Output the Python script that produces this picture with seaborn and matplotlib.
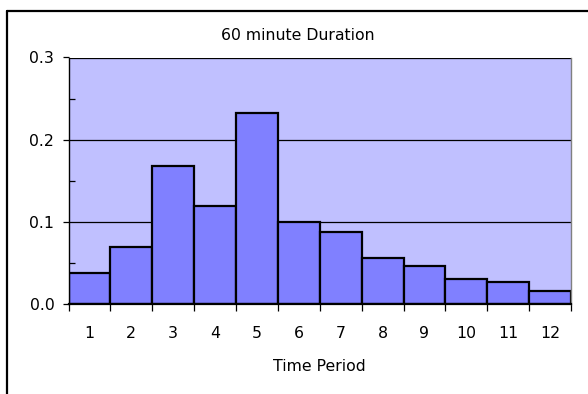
import matplotlib
matplotlib.use("Agg")
import matplotlib.pyplot as plt
import seaborn as sns
import pandas as pd
from matplotlib.lines import Line2D
from matplotlib.ticker import MultipleLocator, FormatStrFormatter

periods = ["1", "2", "3", "4", "5", "6", "7", "8", "9", "10", "11", "12"]
values = [0.038, 0.070, 0.168, 0.120, 0.232, 0.100, 0.088, 0.056, 0.047, 0.031, 0.027, 0.016]
title = "60 minute Duration"
xlabel = "Time Period"

df = pd.DataFrame({"period": periods, "value": values})

sns.set_style("white")
plt.rcParams["font.family"] = ["DejaVu Sans"]
plt.rcParams["text.color"] = "black"
plt.rcParams["axes.labelcolor"] = "black"
plt.rcParams["xtick.color"] = "black"
plt.rcParams["ytick.color"] = "black"

FS = 11.3

fig = plt.figure(figsize=(5.88, 3.94), dpi=100)
ax = fig.add_axes([68.5 / 588, 1 - 304.3 / 394, (571 - 68.5) / 588, (304.3 - 57.5) / 394])
ax.set_facecolor("#C0C0FF")

sns.barplot(data=df, x="period", y="value", ax=ax, width=1.0, color="#8080FF",
            saturation=1, edgecolor="black", linewidth=1.6, zorder=3)

ax.set_xlim(-0.5, len(periods) - 0.5)
ax.set_ylim(0, 0.3)

# gridlines
for v in [0.1, 0.2, 0.3]:
    ax.axhline(v, color="black", linewidth=0.9, zorder=1)

ax.yaxis.set_major_locator(MultipleLocator(0.1))
ax.yaxis.set_minor_locator(MultipleLocator(0.05))
ax.yaxis.set_major_formatter(FormatStrFormatter("%.1f"))
ax.tick_params(axis="y", which="major", direction="out", length=4.2, width=0.9,
               labelsize=FS, pad=6, left=True)
ax.tick_params(axis="y", which="minor", direction="in", length=4, width=0.9, left=True)

# x ticks at boundaries, labels at centers
ax.set_xticks([i - 0.5 for i in range(len(periods) + 1)])
ax.set_xticklabels([])
ax.set_xticks(list(range(len(periods))), minor=True)
ax.set_xticklabels(periods, minor=True)
ax.tick_params(axis="x", which="major", direction="out", length=5, width=0.9, bottom=True)
ax.tick_params(axis="x", which="minor", length=0, labelsize=FS, pad=15.5, bottom=True)

ax.set_xlabel(xlabel, fontsize=FS, labelpad=13)
ax.set_ylabel("")

for s in ["left", "bottom"]:
    ax.spines[s].set_color("black")
ax.spines["left"].set_linewidth(1.0)
ax.spines["bottom"].set_linewidth(1.6)
ax.spines["right"].set_color("#808080")
ax.spines["right"].set_linewidth(1.0)
ax.spines["top"].set_visible(False)
for s in ax.spines.values():
    s.set_zorder(5)

fig.text(298 / 588, 1 - 35 / 394, title, ha="center", va="center", fontsize=FS)

# outer chart frame (left and top only visible)
fig.add_artist(Line2D([6.5 / 588, 6.5 / 588], [0, 1 - 10.5 / 394], transform=fig.transFigure,
                      color="black", linewidth=1.6))
fig.add_artist(Line2D([6.5 / 588, 1], [1 - 10.5 / 394, 1 - 10.5 / 394], transform=fig.transFigure,
                      color="black", linewidth=1.6))

fig.savefig("out.png", dpi=100)
